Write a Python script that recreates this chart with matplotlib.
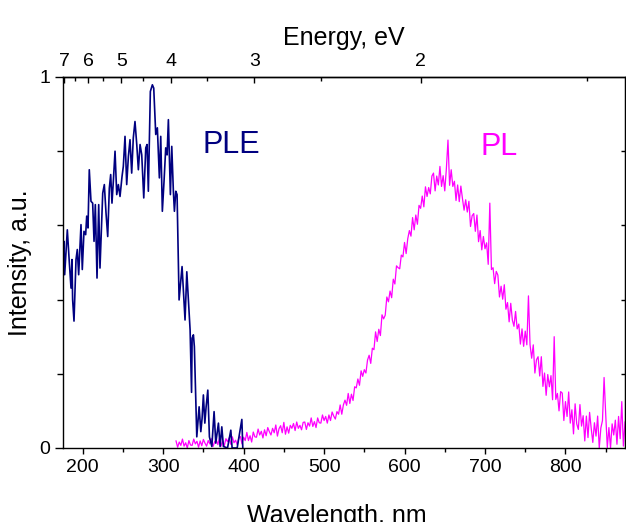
import matplotlib
matplotlib.use("Agg")
import matplotlib.pyplot as plt

plt.rcParams['font.family'] = ['Liberation Sans', 'DejaVu Sans']

# PLE spectrum (excitation), wavelength in nm, intensity normalised
ple_wl = [175.5, 176.7, 177.6, 180.9, 183.3, 185.5, 186.7, 187.5, 189.2, 191.7,
          193.3, 195.0, 197.9, 199.5, 201.6, 203.7, 205.0, 206.6, 208.2, 210.3,
          212.4, 214.1, 215.7, 217.8, 219.9, 221.5, 224.9, 226.9, 229.0, 231.1,
          233.1, 234.8, 236.4, 238.1, 240.2, 242.3, 244.3, 246.4, 248.9, 250.5,
          252.6, 254.7, 256.8, 258.8, 260.9, 262.9, 265.0, 267.2, 269.2, 271.3,
          273.4, 275.9, 278.4, 280.0, 281.6, 284.1, 286.6, 288.3, 290.8, 292.8,
          295.3, 297.0, 299.0, 301.1, 303.2, 304.9, 306.5, 309.0, 310.7, 312.7,
          314.0, 315.7, 317.3, 319.8, 323.5, 327.2, 329.4, 333.5, 335.3, 336.0,
          337.6, 338.8, 341.8, 344.7, 346.8, 348.4, 350.0, 351.8, 353.4, 355.5,
          357.5, 360.5, 363.3, 365.4, 368.7, 370.8, 372.9, 374.9, 380.0, 384.1,
          385.7, 392.0, 397.8, 399.0]
ple_int = [0.53, 0.557, 0.467, 0.588, 0.503, 0.431, 0.508, 0.40, 0.342, 0.508,
           0.535, 0.467, 0.602, 0.481, 0.584, 0.575, 0.625, 0.593, 0.75, 0.665,
           0.66, 0.557, 0.656, 0.458, 0.656, 0.485, 0.687, 0.71, 0.633, 0.57,
           0.70, 0.737, 0.66, 0.719, 0.80, 0.683, 0.71, 0.678, 0.732, 0.759,
           0.84, 0.71, 0.786, 0.831, 0.741, 0.836, 0.88, 0.818, 0.75, 0.818,
           0.79, 0.674, 0.809, 0.818, 0.692, 0.961, 0.979, 0.97, 0.845, 0.863,
           0.728, 0.84, 0.638, 0.719, 0.809, 0.79, 0.885, 0.683, 0.813, 0.692,
           0.638, 0.692, 0.683, 0.399, 0.489, 0.345, 0.475, 0.318, 0.15, 0.296,
           0.305, 0.273, 0.03, 0.111, 0.044, 0.08, 0.143, 0.067, 0.111, 0.156,
           0.03, 0.004, 0.098, 0.013, 0.067, 0.004, 0.057, 0.004, 0.0, 0.048,
           0.0, 0.0, 0.077, 0.0]

# PL spectrum (emission), 2 nm steps from 316 to 874 nm
pl_wl = list(range(316, 876, 2))
pl_int = [
    0.019, 0.002, 0.016, 0.007, 0.024, 0.005, 0.014, 0.0, 0.020, 0.008,
    0.007, 0.024, 0.011, 0.018, 0.002, 0.019, 0.006, 0.023, 0.013, 0.005,
    0.020, 0.011, 0.025, 0.004, 0.017, 0.022, 0.009, 0.027, 0.005, 0.019,
    0.006, 0.025, 0.017, 0.027, 0.010, 0.030, 0.014, 0.021, 0.009, 0.026,
    0.031, 0.011, 0.029, 0.020, 0.042, 0.020, 0.033, 0.016, 0.043, 0.030,
    0.029, 0.051, 0.035, 0.045, 0.027, 0.049, 0.033, 0.055, 0.044, 0.035,
    0.053, 0.041, 0.062, 0.032, 0.052, 0.060, 0.041, 0.069, 0.037, 0.057,
    0.040, 0.061, 0.053, 0.066, 0.047, 0.070, 0.053, 0.061, 0.049, 0.069,
    0.070, 0.050, 0.068, 0.059, 0.081, 0.058, 0.071, 0.055, 0.081, 0.068,
    0.067, 0.089, 0.074, 0.085, 0.067, 0.089, 0.074, 0.097, 0.086, 0.078,
    0.098, 0.091, 0.116, 0.091, 0.116, 0.129, 0.115, 0.147, 0.120, 0.145,
    0.128, 0.165, 0.162, 0.186, 0.169, 0.208, 0.193, 0.211, 0.202, 0.237,
    0.250, 0.228, 0.269, 0.265, 0.313, 0.287, 0.320, 0.303, 0.359, 0.348,
    0.358, 0.407, 0.394, 0.423, 0.405, 0.455, 0.442, 0.491, 0.486, 0.483,
    0.520, 0.515, 0.554, 0.524, 0.564, 0.586, 0.571, 0.621, 0.588, 0.628,
    0.603, 0.654, 0.646, 0.679, 0.650, 0.704, 0.678, 0.702, 0.685, 0.733,
    0.741, 0.693, 0.733, 0.709, 0.759, 0.705, 0.734, 0.693, 0.753, 0.830,
    0.708, 0.750, 0.705, 0.719, 0.667, 0.709, 0.664, 0.706, 0.672, 0.641,
    0.669, 0.636, 0.665, 0.597, 0.626, 0.632, 0.584, 0.628, 0.556, 0.586,
    0.534, 0.570, 0.537, 0.553, 0.495, 0.660, 0.481, 0.486, 0.443, 0.476,
    0.466, 0.407, 0.436, 0.401, 0.440, 0.374, 0.392, 0.340, 0.390, 0.345,
    0.328, 0.368, 0.321, 0.334, 0.280, 0.321, 0.274, 0.315, 0.278, 0.410,
    0.278, 0.242, 0.278, 0.202, 0.238, 0.246, 0.194, 0.246, 0.166, 0.202,
    0.142, 0.198, 0.165, 0.195, 0.130, 0.300, 0.131, 0.147, 0.100, 0.152,
    0.148, 0.074, 0.125, 0.085, 0.151, 0.067, 0.103, 0.038, 0.119, 0.065,
    0.050, 0.117, 0.059, 0.087, 0.019, 0.086, 0.028, 0.096, 0.053, 0.015,
    0.068, 0.032, 0.086, 0.000, 0.054, 0.074, 0.190, 0.092, 0.001, 0.055,
    0.000, 0.065, 0.035, 0.075, 0.010, 0.085, 0.025, 0.125, 0.005, 0.070,
]

# axis ticks
wl_major = [200, 300, 400, 500, 600, 700, 800]
wl_minor = [250, 350, 450, 550, 650, 750, 850]
ev_major = [7, 6, 5, 4, 3, 2]
ev_minor = [6.5, 5.5, 4.5, 3.5, 2.5, 1.5]
HC = 1240.0  # eV*nm

fig = plt.figure(figsize=(6.26, 5.22), dpi=100)
ax = fig.add_axes([0.1006, 0.1418, 0.8978, 0.7107])

ax.plot(pl_wl, pl_int, color='#FF00FF', linewidth=0.9)
ax.plot(ple_wl, ple_int, color='#000080', linewidth=1.2)

ax.set_xlim(175.5, 874)
ax.set_ylim(0, 1)

ax.set_xticks(wl_major)
ax.set_xticks(wl_minor, minor=True)
ax.set_yticks([0, 1])
ax.set_yticks([0.2, 0.4, 0.6, 0.8], minor=True)
ax.set_yticklabels(['0', '1'])

ax.tick_params(axis='x', which='major', direction='out', length=4, width=1, labelsize=14, pad=4)
ax.tick_params(axis='x', which='minor', direction='out', length=3, width=1)
ax.tick_params(axis='y', which='major', direction='out', length=6, width=1, labelsize=14, pad=3)
ax.tick_params(axis='y', which='minor', direction='out', length=4, width=1)

for s in ax.spines.values():
    s.set_linewidth(1.0)

# top axis: energy scale (E = 1240 / wavelength)
top = ax.secondary_xaxis('top')
top.set_xticks([HC / e for e in ev_major])
top.set_xticklabels([str(e) for e in ev_major])
top.set_xticks([HC / e for e in ev_minor], minor=True)
top.tick_params(axis='x', which='major', direction='in', length=4, width=1, labelsize=14, pad=5)
top.tick_params(axis='x', which='minor', direction='in', length=3, width=1)
top.spines['top'].set_linewidth(1.0)
top.set_xlabel('Energy, eV', fontsize=18, labelpad=6)

# right axis: ticks only
right = ax.secondary_yaxis('right')
right.set_yticks([0.2, 0.4, 0.6, 0.8])
right.set_yticklabels([])
right.tick_params(axis='y', direction='in', length=3, width=1)

ax.set_xlabel('Wavelength, nm', fontsize=18)
ax.xaxis.set_label_coords(0.487, -0.151)
ax.set_ylabel('Intensity, a.u.', fontsize=18)
ax.yaxis.set_label_coords(-0.055, 0.5)

ax.text(348.4, 0.794, 'PLE', color='#000080', fontsize=22, ha='left', va='baseline')
ax.text(694.1, 0.79, 'PL', color='#FF00FF', fontsize=22, ha='left', va='baseline')

fig.savefig('out.png', dpi=100)
